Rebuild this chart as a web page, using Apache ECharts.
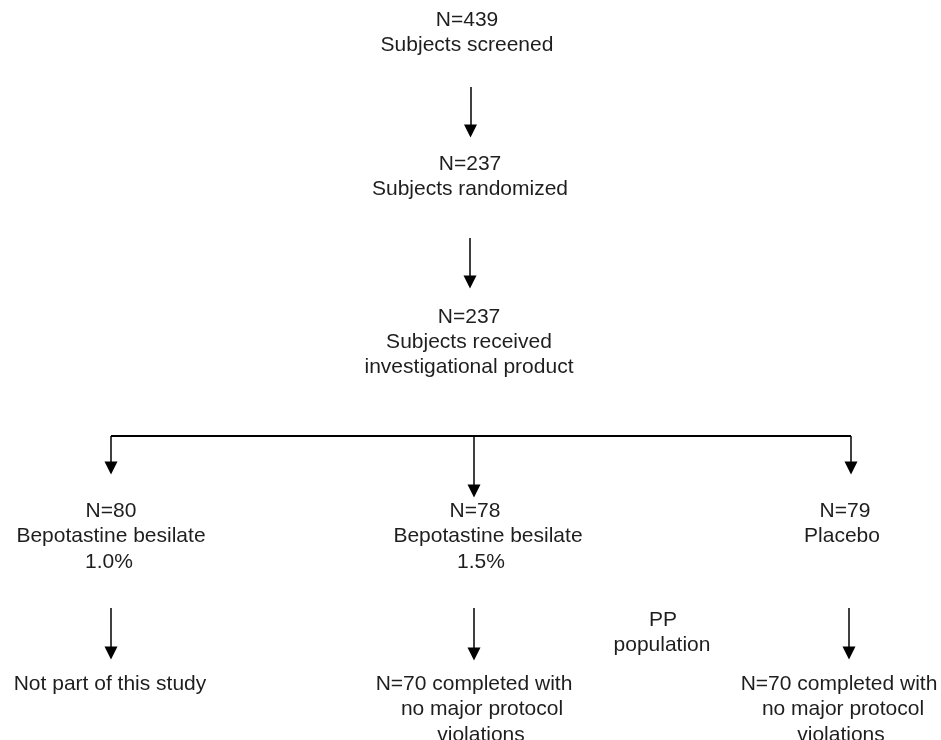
<!DOCTYPE html>
<html><head><meta charset="utf-8">
<script src="https://cdn.jsdelivr.net/npm/echarts@6/dist/echarts.min.js"></script>
<style>html,body{margin:0;padding:0;background:#fff}#c{width:941px;height:740px}</style>
</head><body><div id="c"></div>
<script>
// Text lines of the flow diagram and their centre positions (chart units = pixels)
var lineTexts = [
  "N=439", "Subjects screened",
  "N=237", "Subjects randomized",
  "N=237", "Subjects received", "investigational product",
  "N=80", "Bepotastine besilate", "1.0%",
  "N=78", "Bepotastine besilate", "1.5%",
  "N=79", "Placebo",
  "PP", "population",
  "Not part of this study",
  "N=70 completed with", "no major protocol", "violations",
  "N=70 completed with", "no major protocol", "violations"
];
var lineX = [467, 467, 470, 470, 469, 469, 469, 111, 111, 109, 475, 488, 481, 845, 842, 663, 662, 110, 474, 482, 481, 839, 843, 841];
var lineY = [20.5, 45.5, 164, 189.5, 317, 342, 367, 511, 536.5, 562, 511, 536.5, 562, 511, 536.5, 620, 645, 684, 684, 709.5, 735, 684, 709.5, 735];

// Connectors: [x1, y1, x2, y2, hasArrow]
var edges = [
  [470.5, 87, 470.5, 131, 1],
  [470, 238, 470, 282, 1],
  [111, 436, 851, 436, 0],
  [111, 436, 111, 468, 1],
  [474, 436, 474, 491, 1],
  [851, 436, 851, 468, 1],
  [111, 608, 111, 653, 1],
  [474, 608, 474, 654, 1],
  [849, 608, 849, 653, 1]
];

var chart = echarts.init(document.getElementById('c'), null, {renderer: 'canvas'});
var arrowData = edges.filter(function(e){return e[4];}).map(function(e){return {coords: [[e[0], e[1]], [e[2], e[3]]]};});
var plainData = edges.filter(function(e){return !e[4];}).map(function(e){return {coords: [[e[0], e[1]], [e[2], e[3]]]};});

chart.setOption({
  animation: false,
  backgroundColor: '#fff',
  grid: {left: 0, right: 0, top: 0, bottom: 0},
  xAxis: {type: 'value', min: 0, max: 941, show: false},
  yAxis: {type: 'value', min: 0, max: 740, inverse: true, show: false},
  series: [
    {
      type: 'lines', coordinateSystem: 'cartesian2d', polyline: false,
      symbol: ['none', 'triangle'], symbolSize: [11, 13],
      lineStyle: {color: '#000', width: 1.5, opacity: 1, curveness: 0},
      silent: true, data: arrowData
    },
    {
      type: 'lines', coordinateSystem: 'cartesian2d',
      symbol: ['none', 'none'],
      lineStyle: {color: '#000', width: 2, opacity: 1, curveness: 0},
      silent: true, data: plainData
    },
    {
      type: 'scatter', symbolSize: 0, silent: true,
      itemStyle: {opacity: 1},
      data: lineTexts.map(function(t, i){return {value: [lineX[i], lineY[i]], name: t};}),
      label: {
        show: true, position: 'inside', align: 'center', verticalAlign: 'middle',
        formatter: function(p){return p.name;},
        fontFamily: "'Liberation Sans', Arial, sans-serif", fontSize: 21,
        lineHeight: 25, color: '#1e1e1e', opacity: 1
      }
    }
  ]
});
</script></body></html>
